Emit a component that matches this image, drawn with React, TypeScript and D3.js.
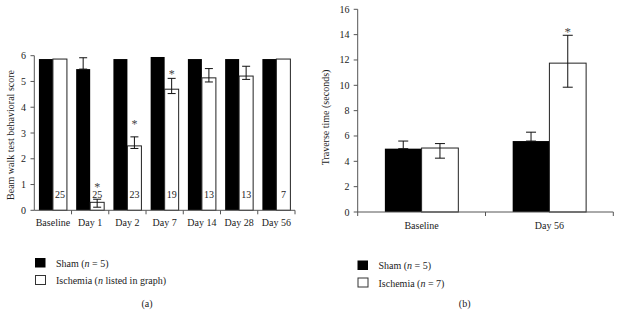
import React from "react";
import * as d3 from "d3";

// ---------- Panel (a) data ----------
const catsA = ["Baseline", "Day 1", "Day 2", "Day 7", "Day 14", "Day 28", "Day 56"];
const shamA = [5.87, 5.48, 5.87, 5.95, 5.87, 5.87, 5.87];
const shamAHi = [null, 5.92, null, null, null, null, null];
const ischA = [5.87, 0.31, 2.5, 4.7, 5.14, 5.21, 5.87];
const ischALo = [null, 0.12, 2.4, 4.53, 4.98, 5.08, null];
const ischAHi = [null, 0.43, 2.85, 5.12, 5.5, 5.59, null];
const nA = [25, 25, 23, 19, 13, 13, 7];
const starA = [null, 0.98, 3.43, 5.36, null, null, null];
const ticksA = [0, 1, 2, 3, 4, 5, 6];

// ---------- Panel (b) data ----------
const catsB = ["Baseline", "Day 56"];
const shamB = [5.0, 5.6];
const shamBHi = [5.6, 6.3];
const ischB = [5.05, 11.75];
const ischBLo = [4.25, 9.85];
const ischBHi = [5.4, 13.95];
const starB = [null, 14.42];
const ticksB = [0, 2, 4, 6, 8, 10, 12, 14, 16];

const keys = ["sham", "isch"];
const FONT = "'Liberation Serif', 'Times New Roman', serif";
const TXT = "#222";
const AX = "#555";

function ErrorBar({ x, y1, y2, w }: { x: number; y1: number; y2: number; w: number }) {
  return (
    <g stroke="#111" strokeWidth={1}>
      <line x1={x} x2={x} y1={y1} y2={y2} />
      <line x1={x - w / 2} x2={x + w / 2} y1={y1} y2={y1} />
      <line x1={x - w / 2} x2={x + w / 2} y1={y2} y2={y2} />
    </g>
  );
}

function Legend({ x, y, ischText }: { x: number; y: number; ischText: string }) {
  return (
    <g fontFamily={FONT} fontSize={10} fill={TXT}>
      <rect x={x} y={y} width={10.5} height={9.5} fill="#000" />
      <text x={x + 21} y={y + 8.5}>
        Sham (<tspan fontStyle="italic">n</tspan> = 5)
      </text>
      <rect x={x + 0.5} y={y + 17.5} width={10} height={9} fill="#fff" stroke="#333" strokeWidth={1} />
      <text x={x + 21} y={y + 26}>
        Ischemia (<tspan fontStyle="italic">n</tspan>
        {ischText})
      </text>
    </g>
  );
}

function PanelA() {
  const y = d3.scaleLinear().domain([0, 6]).range([210.3, 55.7]);
  const x = d3.scaleBand<string>().domain(catsA).range([34.3, 295]).padding(0);
  const x1 = d3.scaleBand<string>().domain(keys).range([0, x.bandwidth()]).paddingInner(0).paddingOuter(0.33);
  const bw = x1.bandwidth();
  const step = x.step();
  return (
    <g>
      {catsA.map((c, i) => {
        const gx = x(c)!;
        const xs = gx + x1("sham")!;
        const xi = gx + x1("isch")!;
        return (
          <g key={c}>
            <rect x={xs} y={y(shamA[i])} width={bw} height={y(0) - y(shamA[i])} fill="#000" />
            <rect x={xi} y={y(ischA[i])} width={bw} height={y(0) - y(ischA[i])} fill="#fff" stroke="#222" strokeWidth={1} />
            {shamAHi[i] != null && (
              <ErrorBar x={xs + bw / 2} y1={y(shamAHi[i] as number)} y2={y(shamA[i])} w={8} />
            )}
            {ischAHi[i] != null && (
              <ErrorBar x={xi + bw / 2} y1={y(ischAHi[i] as number)} y2={y(ischALo[i] as number)} w={8} />
            )}
            {starA[i] != null && (
              <text x={xi + bw / 2} y={y(starA[i] as number) + 6} textAnchor="middle" fontFamily={FONT} fontSize={12} fill="#444">
                *
              </text>
            )}
            <text x={xi + bw / 2} y={198} textAnchor="middle" fontFamily={FONT} fontSize={10} fill={TXT}>
              {nA[i]}
            </text>
            <text x={gx + step / 2} y={226} textAnchor="middle" fontFamily={FONT} fontSize={10} fill={TXT}>
              {c}
            </text>
            <line x1={gx + step} x2={gx + step} y1={y(0)} y2={y(0) + 4} stroke={AX} />
          </g>
        );
      })}
      {/* axes */}
      <line x1={34.3} x2={34.3} y1={y(6)} y2={y(0)} stroke={AX} />
      <line x1={34.3} x2={295} y1={y(0)} y2={y(0)} stroke={AX} />
      {ticksA.map((t) => (
        <g key={t}>
          <line x1={30.5} x2={34.3} y1={y(t)} y2={y(t)} stroke={AX} />
          <text x={26} y={y(t) + 3.5} textAnchor="end" fontFamily={FONT} fontSize={10} fill={TXT}>
            {t}
          </text>
        </g>
      ))}
      <text
        transform={`translate(14,${(y(6) + y(0)) / 2 + 2}) rotate(-90)`}
        textAnchor="middle"
        fontFamily={FONT}
        fontSize={10}
        fill={TXT}
      >
        Beam walk test behavioral score
      </text>
      <Legend x={35} y={258} ischText=" listed in graph" />
      <text x={147} y={306.5} textAnchor="middle" fontFamily={FONT} fontSize={10} fill={TXT}>
        (a)
      </text>
    </g>
  );
}

function PanelB() {
  const y = d3.scaleLinear().domain([0, 16]).range([212, 9.3]);
  const x = d3.scaleBand<string>().domain(catsB).range([357.7, 613.3]).padding(0);
  const x1 = d3.scaleBand<string>().domain(keys).range([0, x.bandwidth()]).paddingInner(0).paddingOuter(0.74);
  const bw = x1.bandwidth();
  const step = x.step();
  return (
    <g>
      {catsB.map((c, i) => {
        const gx = x(c)!;
        const xs = gx + x1("sham")!;
        const xi = gx + x1("isch")!;
        return (
          <g key={c}>
            <rect x={xs} y={y(shamB[i])} width={bw} height={y(0) - y(shamB[i])} fill="#000" />
            <rect x={xi} y={y(ischB[i])} width={bw} height={y(0) - y(ischB[i])} fill="#fff" stroke="#222" strokeWidth={1} />
            <ErrorBar x={xs + bw / 2} y1={y(shamBHi[i])} y2={y(shamB[i])} w={10} />
            <ErrorBar x={xi + bw / 2} y1={y(ischBHi[i])} y2={y(ischBLo[i])} w={10} />
            {starB[i] != null && (
              <text x={xi + bw / 2} y={y(starB[i] as number) + 7} textAnchor="middle" fontFamily={FONT} fontSize={13} fill="#444">
                *
              </text>
            )}
            <text x={gx + step / 2} y={229} textAnchor="middle" fontFamily={FONT} fontSize={10} fill={TXT}>
              {c}
            </text>
          </g>
        );
      })}
      {[0, 1, 2].map((k) => (
        <line key={k} x1={357.7 + k * step} x2={357.7 + k * step} y1={y(0)} y2={y(0) + 4} stroke={AX} />
      ))}
      <line x1={357.7} x2={357.7} y1={y(16)} y2={y(0)} stroke={AX} />
      <line x1={357.7} x2={613.3} y1={y(0)} y2={y(0)} stroke={AX} />
      {ticksB.map((t) => (
        <g key={t}>
          <line x1={353.7} x2={357.7} y1={y(t)} y2={y(t)} stroke={AX} />
          <text x={349.5} y={y(t) + 3.5} textAnchor="end" fontFamily={FONT} fontSize={10} fill={TXT}>
            {t}
          </text>
        </g>
      ))}
      <text
        transform={`translate(329,117.5) rotate(-90)`}
        textAnchor="middle"
        fontFamily={FONT}
        fontSize={10}
        fill={TXT}
      >
        Traverse time (seconds)
      </text>
      <Legend x={357.5} y={260.5} ischText=" = 7" />
      <text x={464.7} y={306.5} textAnchor="middle" fontFamily={FONT} fontSize={10} fill={TXT}>
        (b)
      </text>
    </g>
  );
}

export default function App() {
  return (
    <svg
      width={620}
      height={316}
      viewBox="0 0 620 316"
      style={{ position: "absolute", left: 0, top: 0, background: "#fff" }}
    >
      <rect width={620} height={316} fill="#fff" />
      <PanelA />
      <PanelB />
    </svg>
  );
}
